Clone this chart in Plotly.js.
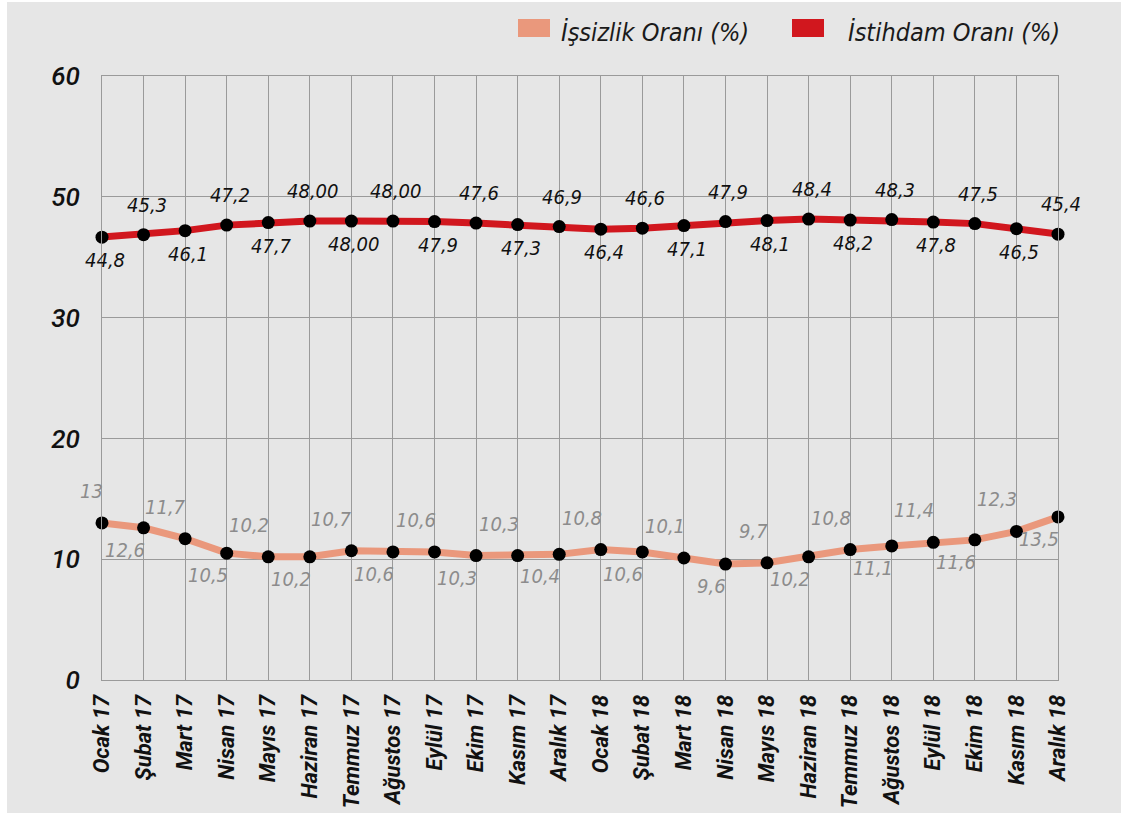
<!DOCTYPE html>
<html>
<head>
<meta charset="utf-8">
<script src="https://cdn.plot.ly/plotly-3.0.1.min.js"></script>
<style>
  html, body { margin: 0; padding: 0; background: #ffffff; width: 1121px; height: 817px; overflow: hidden; }
  #chart { position: absolute; left: 7px; top: 2px; width: 1114px; height: 811px; }
</style>
</head>
<body>
<div id="chart"></div>
<script>
// ---- data ----
const categories = ['Ocak 17','Şubat 17','Mart 17','Nisan 17','Mayıs 17','Haziran 17','Temmuz 17','Ağustos 17','Eylül 17','Ekim 17','Kasım 17','Aralık 17',
                    'Ocak 18','Şubat 18','Mart 18','Nisan 18','Mayıs 18','Haziran 18','Temmuz 18','Ağustos 18','Eylül 18','Ekim 18','Kasım 18','Aralık 18'];
const unemployment = [13, 12.6, 11.7, 10.5, 10.2, 10.2, 10.7, 10.6, 10.6, 10.3, 10.3, 10.4, 10.8, 10.6, 10.1, 9.6, 9.7, 10.2, 10.8, 11.1, 11.4, 11.6, 12.3, 13.5];
const employment   = [44.8, 45.3, 46.1, 47.2, 47.7, 48.0, 48.0, 48.0, 47.9, 47.6, 47.3, 46.9, 46.4, 46.6, 47.1, 47.9, 48.1, 48.4, 48.2, 48.3, 47.8, 47.5, 46.5, 45.4];
const unemploymentLabels = ['13','12,6','11,7','10,5','10,2','10,2','10,7','10,6','10,6','10,3','10,3','10,4','10,8','10,6','10,1','9,6','9,7','10,2','10,8','11,1','11,4','11,6','12,3','13,5'];
const employmentLabels   = ['44,8','45,3','46,1','47,2','47,7','48,00','48,00','48,00','47,9','47,6','47,3','46,9','46,4','46,6','47,1','47,9','48,1','48,4','48,2','48,3','47,8','47,5','46,5','45,4'];
const yTickVals = [0, 10, 20, 30, 40, 50];
const yTickText = ['0', '10', '20', '30', '50', '60'];
const seriesNames = ['İşsizlik Oranı (%)', 'İstihdam Oranı (%)'];

// ---- style ----
const BG = '#e6e6e6';
const GRID = '#9a9a9a';
const SALMON = '#ea987c';
const RED = '#d1171e';
const NARROW = 'DejaVu Sans Condensed, sans-serif';

// page geometry (for legend placement only)
const W = 1114, H = 811, M = {l: 95, r: 63, t: 74, b: 133};
const PW = W - M.l - M.r, PH = H - M.t - M.b;
const offX = 7, offY = 2;
function px2x(px) { return (px - offX - M.l) / PW; }
function px2y(py) { return 1 - (py - offY - M.t) / PH; }

const traces = [
  {
    x: categories, y: unemployment, type: 'scatter', mode: 'lines+markers', name: seriesNames[0],
    line: {color: SALMON, width: 7}, marker: {color: '#000', size: 13}, yaxis: 'y', showlegend: false,
    cliponaxis: false
  },
  {
    x: categories, y: employment, type: 'scatter', mode: 'lines+markers', name: seriesNames[1],
    line: {color: RED, width: 7}, marker: {color: '#000', size: 13}, yaxis: 'y2', showlegend: false,
    cliponaxis: false
  }
];

const annotations = [];
categories.forEach((c, i) => {
  const empAbove = (i % 2 === 1);
  annotations.push({
    x: c, y: employment[i], xref: 'x', yref: 'y2', text: employmentLabels[i], showarrow: false,
    xanchor: 'center', yanchor: 'middle', xshift: 3, yshift: empAbove ? 30 : -23,
    font: {family: NARROW, size: 20, color: '#111', style: 'italic'}
  });
  const unAbove = (i % 2 === 0);
  annotations.push({
    x: c, y: unemployment[i], xref: 'x', yref: 'y', text: unemploymentLabels[i], showarrow: false,
    xanchor: 'right', yanchor: 'middle', xshift: 3, yshift: unAbove ? 32 : -22,
    font: {family: NARROW, size: 20, color: '#8c8c8c', style: 'italic'}
  });
});

// legend (text as annotations, swatches as shapes)
const legendFont = {family: NARROW, size: 25, color: '#1a1a1a', style: 'italic'};
annotations.push({xref: 'paper', yref: 'paper', x: px2x(559), y: px2y(32), text: seriesNames[0], showarrow: false,
  xanchor: 'left', yanchor: 'middle', font: legendFont});
annotations.push({xref: 'paper', yref: 'paper', x: px2x(846), y: px2y(32), text: seriesNames[1], showarrow: false,
  xanchor: 'left', yanchor: 'middle', font: legendFont});
const shapes = [
  {type: 'rect', xref: 'paper', yref: 'paper', x0: px2x(518), x1: px2x(550), y0: px2y(37), y1: px2y(19),
   fillcolor: SALMON, line: {width: 0}},
  {type: 'rect', xref: 'paper', yref: 'paper', x0: px2x(792), x1: px2x(824), y0: px2y(37), y1: px2y(19),
   fillcolor: RED, line: {width: 0}}
];

const layout = {
  width: W, height: H,
  margin: M,
  paper_bgcolor: BG, plot_bgcolor: BG,
  showlegend: false,
  xaxis: {
    type: 'category', range: [0, categories.length - 1],
    showgrid: true, gridcolor: GRID, gridwidth: 1,
    showline: true, linecolor: GRID, linewidth: 1, mirror: true,
    zeroline: false,
    tickangle: -90, ticks: 'outside', ticklen: 5, tickcolor: 'rgba(0,0,0,0)',
    tickfont: {family: 'Roboto, sans-serif', size: 22, color: '#111', style: 'italic', weight: 'bold'}
  },
  yaxis: {
    range: [0, 50], tickvals: yTickVals, ticktext: yTickText,
    showgrid: true, gridcolor: GRID, gridwidth: 1,
    showline: true, linecolor: GRID, linewidth: 1, mirror: true,
    zeroline: false,
    ticks: 'outside', ticklen: 16, tickcolor: 'rgba(0,0,0,0)',
    tickfont: {family: 'Roboto, sans-serif', size: 26, color: '#111', style: 'italic', weight: 500}
  },
  yaxis2: {
    overlaying: 'y', side: 'right', range: [-43.7, 77], visible: false, showgrid: false
  },
  annotations: annotations,
  shapes: shapes
};

Plotly.newPlot('chart', traces, layout, {displayModeBar: false, staticPlot: true});
</script>
</body>
</html>
